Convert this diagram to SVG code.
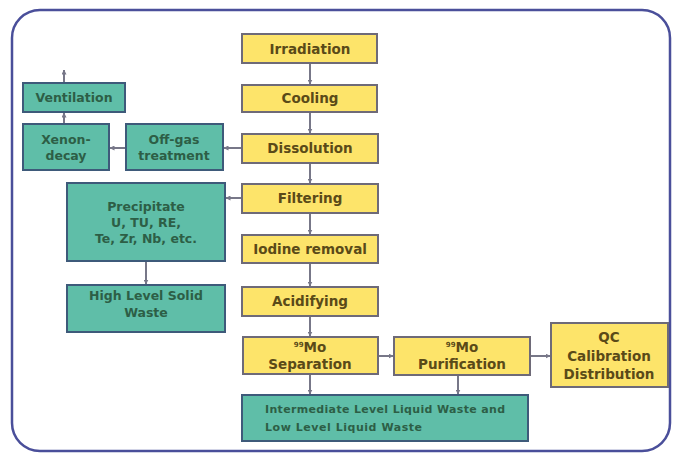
<svg xmlns="http://www.w3.org/2000/svg" width="677" height="458" viewBox="0 0 677 458">
<defs>
<marker id="ah" viewBox="0 0 10 10" refX="9" refY="5" markerWidth="5" markerHeight="5" orient="auto" markerUnits="userSpaceOnUse">
<path d="M0,0 L10,5 L0,10 z" fill="#777788"/>
</marker>
<style>
.y{fill:#fde46a;stroke:#6e6a78;stroke-width:2}
.g{fill:#5fbea8;stroke:#3e5a7a;stroke-width:2}
.ty{font-family:"DejaVu Sans",Verdana,sans-serif;font-weight:bold;font-size:13.5px;fill:#5a4a18;text-anchor:middle}
.tg{font-family:"DejaVu Sans",Verdana,sans-serif;font-weight:bold;font-size:12.5px;fill:#2d5e46;text-anchor:middle}
.c{stroke:#777788;stroke-width:2;fill:none;marker-end:url(#ah)}
</style>
</defs>
<rect x="0" y="0" width="677" height="458" fill="#ffffff"/>
<rect id="frame" x="12" y="10" width="658" height="441" rx="28" ry="28" fill="#ffffff" stroke="#4a4f9a" stroke-width="2.5"/>
<g id="connectors">
<line class="c" x1="310" y1="63" x2="310" y2="84"/>
<line class="c" x1="310" y1="112" x2="310" y2="133"/>
<line class="c" x1="310" y1="163" x2="310" y2="183"/>
<line class="c" x1="310" y1="213" x2="310" y2="234"/>
<line class="c" x1="310" y1="263" x2="310" y2="286"/>
<line class="c" x1="310" y1="316" x2="310" y2="336"/>
<line class="c" x1="310" y1="374" x2="310" y2="394"/>
<line class="c" x1="378" y1="356" x2="393" y2="356"/>
<line class="c" x1="530" y1="356" x2="550" y2="356"/>
<line class="c" x1="458" y1="375" x2="458" y2="394"/>
<line class="c" x1="242" y1="148" x2="224" y2="148"/>
<line class="c" x1="126" y1="148" x2="110" y2="148"/>
<line class="c" x1="64" y1="124" x2="64" y2="113"/>
<line class="c" x1="64" y1="83" x2="64" y2="70"/>
<line class="c" x1="242" y1="198" x2="226" y2="198"/>
<line class="c" x1="146" y1="261" x2="146" y2="284"/>
</g>
<g id="irradiation"><rect class="y" x="242" y="34" width="135" height="29"/><text class="ty" x="310" y="53.5">Irradiation</text></g>
<g id="cooling"><rect class="y" x="242" y="85" width="135" height="27"/><text class="ty" x="310" y="103">Cooling</text></g>
<g id="dissolution"><rect class="y" x="242" y="134" width="136" height="29"/><text class="ty" x="310" y="153">Dissolution</text></g>
<g id="filtering"><rect class="y" x="242" y="184" width="136" height="29"/><text class="ty" x="310" y="203">Filtering</text></g>
<g id="iodine"><rect class="y" x="242" y="235" width="136" height="28"/><text class="ty" x="310" y="254">Iodine removal</text></g>
<g id="acidifying"><rect class="y" x="242" y="287" width="136" height="29"/><text class="ty" x="310" y="306">Acidifying</text></g>
<g id="mo-separation"><rect class="y" x="243" y="337" width="135" height="37"/><text class="ty" x="310" y="352"><tspan font-size="7" dy="-5">99</tspan><tspan dy="5">Mo</tspan></text><text class="ty" x="310" y="369">Separation</text></g>
<g id="mo-purification"><rect class="y" x="394" y="337" width="136" height="38"/><text class="ty" x="462" y="352"><tspan font-size="7" dy="-5">99</tspan><tspan dy="5">Mo</tspan></text><text class="ty" x="462" y="369">Purification</text></g>
<g id="qc"><rect class="y" x="551" y="323" width="117" height="64"/><text class="ty" x="609" y="342">QC</text><text class="ty" x="609" y="361">Calibration</text><text class="ty" x="609" y="379">Distribution</text></g>
<g id="liquid-waste"><rect class="g" x="242" y="395" width="286" height="46"/><text class="tg" style="text-anchor:start;font-size:11px" x="265" y="413" textLength="240" lengthAdjust="spacing">Intermediate Level Liquid Waste and</text><text class="tg" style="text-anchor:start;font-size:11px" x="265" y="431" textLength="157" lengthAdjust="spacing">Low Level Liquid Waste</text></g>
<g id="ventilation"><rect class="g" x="23" y="83" width="102" height="29"/><text class="tg" x="74" y="102">Ventilation</text></g>
<g id="xenon"><rect class="g" x="23" y="124" width="86" height="46"/><text class="tg" x="66" y="144">Xenon-</text><text class="tg" x="66" y="160">decay</text></g>
<g id="offgas"><rect class="g" x="126" y="124" width="97" height="46"/><text class="tg" x="174" y="144">Off-gas</text><text class="tg" x="174" y="160">treatment</text></g>
<g id="precipitate"><rect class="g" x="67" y="183" width="158" height="78"/><text class="tg" x="146" y="211">Precipitate</text><text class="tg" x="146" y="227">U, TU, RE,</text><text class="tg" x="146" y="243">Te, Zr, Nb, etc.</text></g>
<g id="hlsw"><rect class="g" x="67" y="285" width="158" height="47"/><text class="tg" x="146" y="300">High Level Solid</text><text class="tg" x="146" y="317">Waste</text></g>
</svg>
